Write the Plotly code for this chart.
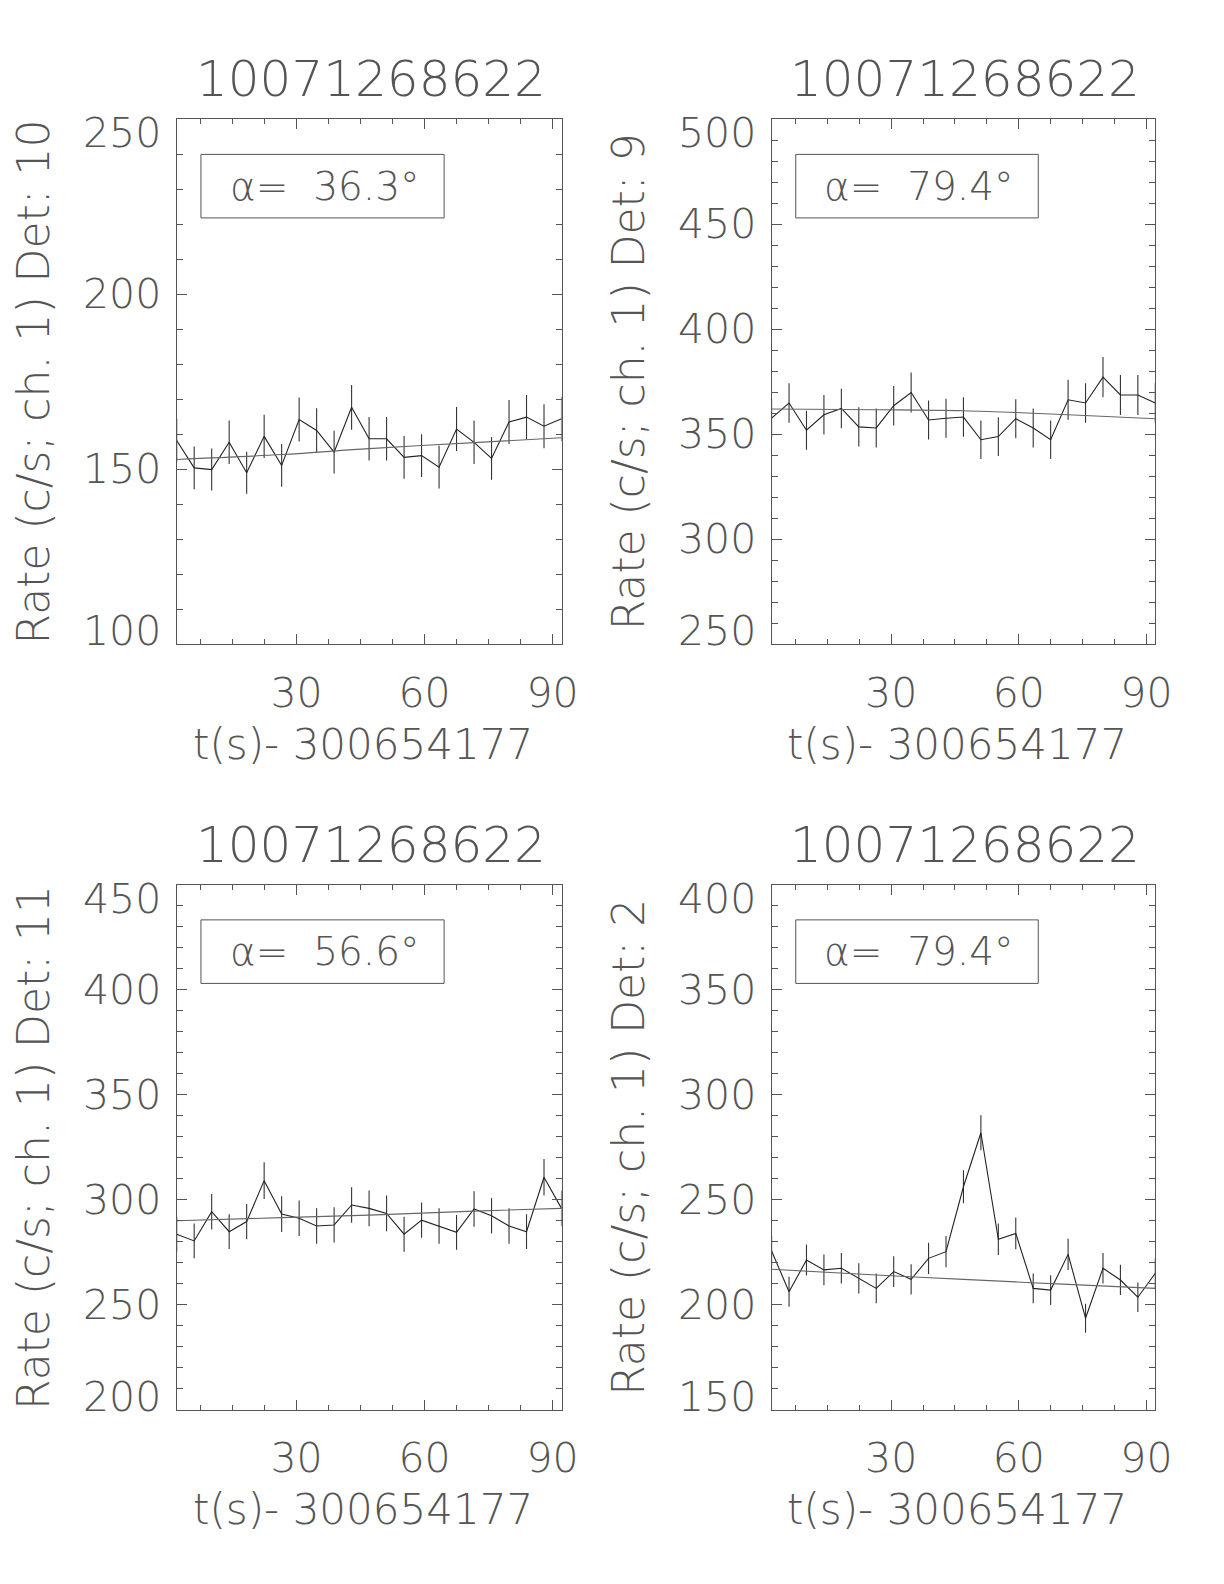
import plotly.graph_objects as go

# ---------------- data ----------------
time_s = [1.9, 6.0, 10.1, 14.2, 18.3, 22.4, 26.5, 30.6, 34.7, 38.8, 42.9, 47.0,
          51.1, 55.2, 59.3, 63.4, 67.5, 71.6, 75.7, 79.8, 83.9, 88.0, 92.1]
fit_t = [1.9, 26.5, 47.0, 71.6, 92.1]

det10_rate = [158.2, 150.4, 149.9, 157.7, 149.0, 159.4, 151.1, 164.2, 161.1, 154.9, 167.7, 158.7,
              158.7, 153.4, 153.9, 150.6, 161.5, 157.7, 153.1, 163.5, 164.9, 162.3, 164.4]
det10_err = [6.2, 6.1, 6.0, 6.2, 6.0, 6.2, 6.1, 6.3, 6.3, 6.1, 6.4, 6.2,
             6.2, 6.1, 6.1, 6.1, 6.3, 6.2, 6.1, 6.3, 6.3, 6.3, 6.3]
det10_fit = [152.8, 154.2, 155.9, 157.6, 159.0]

det9_rate = [357.7, 364.9, 351.9, 359.3, 362.3, 353.5, 353.0, 363.6, 369.9, 356.8, 357.6, 358.2,
             347.4, 348.9, 357.4, 353.0, 347.4, 366.4, 364.9, 377.2, 368.7, 368.7, 364.9]
det9_err = [9.3, 9.4, 9.3, 9.4, 9.4, 9.3, 9.3, 9.4, 9.5, 9.3, 9.3, 9.4,
            9.2, 9.2, 9.3, 9.3, 9.2, 9.5, 9.4, 9.6, 9.5, 9.5, 9.4]
det9_fit = [362.0, 361.7, 361.2, 359.3, 357.4]

det11_rate = [283.6, 280.4, 294.3, 284.8, 289.6, 309.1, 293.2, 291.2, 287.5, 288.0, 297.5, 295.9,
              293.5, 283.6, 290.3, 287.5, 284.5, 295.6, 292.4, 287.5, 284.8, 310.7, 295.9]
det11_err = [8.3, 8.3, 8.5, 8.3, 8.4, 8.7, 8.5, 8.4, 8.4, 8.4, 8.5, 8.5,
             8.5, 8.3, 8.4, 8.4, 8.3, 8.5, 8.4, 8.4, 8.3, 8.7, 8.5]
det11_fit = [290.0, 291.5, 292.7, 294.6, 295.9]

det2_rate = [225.6, 206.2, 221.3, 216.6, 217.4, 212.6, 207.8, 215.8, 212.1, 222.1, 225.3, 256.2,
             281.9, 231.2, 234.0, 207.8, 207.0, 224.0, 193.6, 217.4, 211.8, 203.6, 215.0]
det2_err = [7.4, 7.1, 7.4, 7.3, 7.3, 7.2, 7.1, 7.3, 7.2, 7.4, 7.4, 7.9,
            8.3, 7.5, 7.6, 7.1, 7.1, 7.4, 6.9, 7.3, 7.2, 7.0, 7.2]
det2_fit = [216.9, 214.2, 212.1, 209.7, 207.8]

titles = ["10071268622", "10071268622", "10071268622", "10071268622"]
det_labels = ["10", "9", "11", "2"]
alphas = ["36.3", "79.4", "56.6", "79.4"]
y_ranges = [[100, 250], [250, 500], [200, 450], [150, 400]]
y_tickvals = [[100, 150, 200, 250], [250, 300, 350, 400, 450, 500],
              [200, 250, 300, 350, 400, 450], [150, 200, 250, 300, 350, 400]]
x_title = "t(s)- 300654177"
x_tickvals = [30, 60, 90]

panels = [
    (det10_rate, det10_err, det10_fit),
    (det9_rate, det9_err, det9_fit),
    (det11_rate, det11_err, det11_fit),
    (det2_rate, det2_err, det2_fit),
]

# ---------------- layout geometry ----------------
PAGE_OFF = 8          # default body margin of the html page
W, H = 1224 - 2 * PAGE_OFF, 1584 - 2 * PAGE_OFF


def fx(px):
    return (px - PAGE_OFF) / W


def fy(py):
    return 1 - (py - PAGE_OFF) / H


x_doms = [[fx(176.7), fx(561.5)], [fx(771.6), fx(1155.3)]]
y_doms = [[fy(644.3), fy(119.2)], [fy(1409.8), fy(884.7)]]
x_px = [[176.7, 561.5], [771.6, 1155.3]]
y_px = [[119.2, 644.3], [884.7, 1409.8]]

FONT = "'DejaVu Sans ExtraLight', 'DejaVu Sans', sans-serif"
TXT = "#555555"
AX = "#555555"

fig = go.Figure()
layout = dict(
    width=W, height=H, margin=dict(l=0, r=0, t=0, b=0, autoexpand=False),
    paper_bgcolor="white", plot_bgcolor="white", showlegend=False,
    font=dict(family=FONT, color=TXT, weight=200),
)
annotations = []
shapes = []

for i, (rate, err, fit) in enumerate(panels):
    row, col = divmod(i, 2)
    k = "" if i == 0 else str(i + 1)
    xd, yd = x_doms[col], y_doms[row]
    left_px, right_px = x_px[col]
    top_px, bot_px = y_px[row]
    fig.add_trace(go.Scatter(
        x=time_s, y=rate, mode="lines", xaxis="x" + k, yaxis="y" + k,
        line=dict(color="#222222", width=1.1),
        error_y=dict(type="data", array=err, visible=True, width=0,
                     thickness=1.1, color="#333333"),
    ))
    fig.add_trace(go.Scatter(
        x=fit_t, y=fit, mode="lines", xaxis="x" + k, yaxis="y" + k,
        line=dict(color="#666666", width=1.1, shape="spline"),
    ))
    yr = y_ranges[i]
    layout["xaxis" + k] = dict(
        domain=xd, anchor="y" + k, range=[time_s[0], time_s[-1]], automargin=False,
        tickvals=x_tickvals, ticks="inside", ticklen=10, tickwidth=1, tickcolor=AX,
        minor=dict(dtick=7.5, tick0=0, ticks="inside", ticklen=5, tickwidth=1, tickcolor=AX),
        showline=True, linecolor=AX, linewidth=1, mirror="allticks",
        showgrid=False, zeroline=False,
        tickfont=dict(size=41, family=FONT, color=TXT, weight=200),
        ticklabelstandoff=12,
    )
    layout["yaxis" + k] = dict(
        domain=yd, anchor="x" + k, range=yr, automargin=False,
        tickvals=y_tickvals[i], ticks="inside", ticklen=10, tickwidth=1, tickcolor=AX,
        minor=dict(dtick=10, tick0=0, ticks="inside", ticklen=6, tickwidth=1, tickcolor=AX),
        showline=True, linecolor=AX, linewidth=1, mirror="allticks",
        showgrid=False, zeroline=False, showticklabels=False,
    )
    # y tick labels (IDL style: end labels pulled inside the axis span)
    for v in y_tickvals[i]:
        shift = -14 if v == yr[1] else (13 if v == yr[0] else 0)
        annotations.append(dict(
            text=str(v), xref="x" + k + " domain", yref="y" + k, x=0, y=v,
            xanchor="right", yanchor="middle", xshift=-14, yshift=shift, showarrow=False,
            font=dict(size=41, family=FONT, color=TXT, weight=200),
        ))
    xc_px = (left_px + right_px) / 2
    yc_px = (top_px + bot_px) / 2
    # panel title
    annotations.append(dict(
        text=titles[i], xref="paper", yref="paper", x=fx(xc_px + 1.5), y=fy(top_px - 40),
        xanchor="center", yanchor="middle", showarrow=False,
        font=dict(size=50, family=FONT, color=TXT, weight=200),
    ))
    # y title
    annotations.append(dict(
        text="Rate (c/s; ch. 1) Det: " + det_labels[i], xref="paper", yref="paper",
        x=fx(left_px - 143), y=fy(yc_px), xanchor="center", yanchor="middle",
        textangle=-90, showarrow=False,
        font=dict(size=44, family=FONT, color=TXT, weight=200),
    ))
    # x title
    annotations.append(dict(
        text=x_title, xref="paper", yref="paper", x=fx(xc_px - 6), y=fy(bot_px + 100),
        xanchor="center", yanchor="middle", showarrow=False,
        font=dict(size=42, family=FONT, color=TXT, weight=200),
    ))
    # alpha box
    shapes.append(dict(
        type="rect", xref="x" + k + " domain", yref="y" + k + " domain",
        x0=0.063, x1=0.695, y0=0.812, y1=0.933,
        line=dict(color=AX, width=1), fillcolor="rgba(0,0,0,0)",
    ))
    annotations.append(dict(
        text="α=\u00a0 " + alphas[i] + "°", xref="x" + k + " domain", yref="y" + k + " domain",
        x=0.385, y=0.8725, xanchor="center", yanchor="middle", showarrow=False,
        font=dict(size=39, family=FONT, color=TXT, weight=200),
    ))

layout["annotations"] = annotations
layout["shapes"] = shapes
fig.update_layout(**layout)
fig.write_html("out.html")
